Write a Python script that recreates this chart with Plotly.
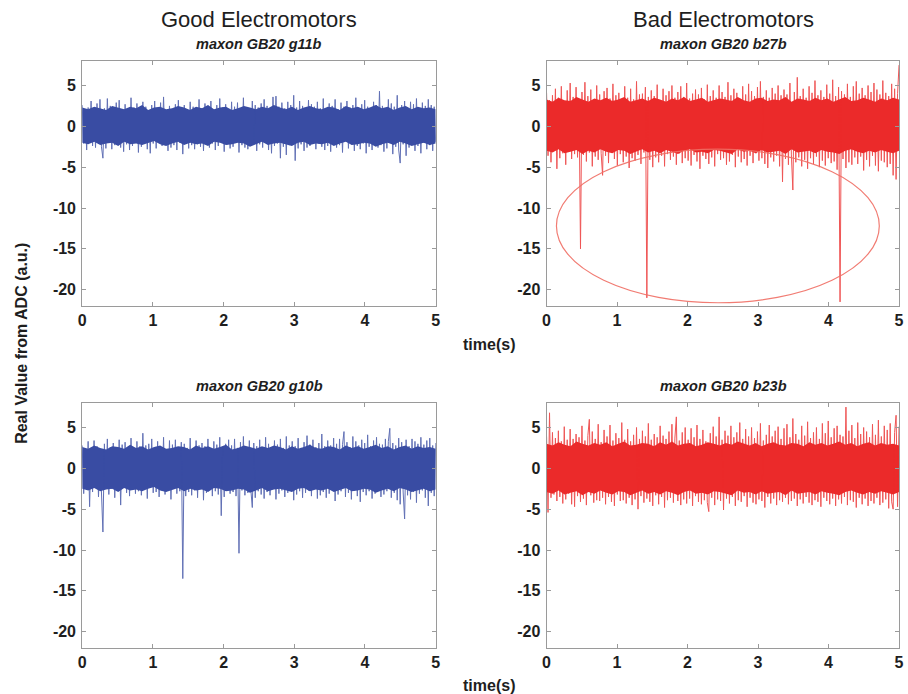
import plotly.graph_objects as go

# ---------------- data ----------------
# raw samples (fringe / spikes)
good_g11b = [
 2.6,-2.1,1.8,-2.9,2.3,-1.7,3.1,-2.4,1.9,-2.6,2.8,-2.0,3.3,-2.5,-3.9,2.2,-2.7,3.4,-1.9,2.5,
 -2.8,2.1,-2.3,2.9,-1.8,3.2,-2.6,2.0,-3.1,2.7,-2.2,1.9,-2.9,3.5,-2.4,2.3,-1.9,2.8,-3.2,2.1,
 -2.5,3.0,-2.0,2.4,-2.8,1.9,-3.3,2.6,-2.1,3.1,-2.7,2.2,-1.8,2.9,-2.4,3.6,-2.2,2.0,-3.0,2.5,
 -2.6,1.8,-2.3,2.7,-2.9,3.2,-2.0,2.3,-3.4,2.6,-1.9,2.1,-2.7,3.0,-2.3,2.4,-2.8,1.9,-2.2,3.3,
 -2.5,2.2,-3.0,2.8,-1.8,2.5,-2.6,3.1,-2.1,2.0,-2.9,2.6,-2.4,3.4,-2.0,2.3,-3.1,2.7,-2.2,1.9,
 -2.7,3.0,-2.5,2.4,-1.9,2.9,-3.2,2.1,-2.3,3.5,-2.6,2.2,-2.8,1.8,-2.4,3.1,-2.0,2.6,-3.0,2.3,
 -2.2,2.8,-2.6,3.3,-1.9,2.5,-2.9,2.0,-3.3,3.6,-2.4,3.7,-2.1,2.4,-3.9,2.9,-2.5,2.2,-3.5,3.0,
 -2.3,2.6,-2.0,3.8,-4.2,2.3,-2.7,3.1,-2.2,2.5,-3.0,2.0,-2.6,3.2,-2.4,2.7,-1.9,2.4,-2.8,3.0,
 -2.1,2.2,-2.5,3.4,-2.9,1.9,-2.4,2.8,-3.1,2.5,-2.0,3.3,-2.6,2.1,-2.3,2.9,-3.2,2.4,-1.8,3.1,
 -2.7,2.3,-2.2,2.6,-3.0,3.5,-2.4,2.0,-2.8,2.7,-2.1,3.2,-3.3,2.4,-2.5,1.9,-2.9,3.0,-2.2,2.6,
 -2.6,4.3,-2.3,2.5,-3.1,2.2,-2.7,3.3,-2.0,2.8,-3.4,2.4,-2.5,3.8,-2.9,-4.5,2.6,-2.2,3.1,-3.6,
 2.3,-2.6,3.0,-2.1,2.7,-3.0,3.4,-2.4,2.2,-3.3,2.9,-2.0,2.5,-2.8,3.3,-2.3,2.6,-3.0,2.4,-1.9,
]

bad_b27b = [
 4.1,-3.6,3.2,-4.4,3.8,-2.9,4.6,-5.2,3.5,-3.9,4.9,-3.3,3.0,-4.7,4.4,-3.1,5.3,-4.0,3.6,-3.4,
 4.8,-3.8,3.3,-15.0,4.2,-3.5,5.4,-4.3,3.7,-3.2,4.5,-4.9,3.1,-3.7,5.0,-4.1,3.9,-3.3,-6.0,4.3,
 -3.6,4.7,-4.5,3.4,-3.1,5.2,-4.0,3.8,-4.8,4.1,-3.4,3.2,-4.4,4.9,-3.7,3.5,-5.1,4.6,-3.9,3.3,
 -4.2,5.5,-3.5,3.9,-4.6,4.0,-3.2,4.8,-21.0,3.6,-4.1,4.4,-5.0,3.7,-3.8,5.1,-4.4,3.2,-3.6,4.6,
 -4.9,3.8,-3.4,4.3,-4.1,5.0,-3.7,3.5,-4.7,4.2,-3.3,4.9,-4.5,3.6,-3.9,5.3,-4.2,3.4,-4.8,4.0,
 -3.5,4.5,-4.3,3.9,-5.2,4.7,-3.6,3.3,-4.0,5.1,-4.6,3.7,-3.8,4.4,-4.9,3.5,-3.4,5.0,-4.1,4.2,
 -3.9,3.6,-4.7,5.4,-4.3,3.8,-3.5,4.6,-5.0,4.1,-3.7,3.4,-4.4,4.9,-4.0,3.9,-4.8,5.2,-3.6,4.3,
 -4.5,3.7,-3.3,4.8,-4.2,5.5,-3.9,3.6,-4.6,4.4,-5.1,3.5,-3.8,4.7,-4.3,4.0,-3.6,5.0,-4.9,3.8,
 -6.8,4.5,-4.0,3.9,-4.7,5.3,-3.5,-7.8,4.2,-4.4,6.0,-3.8,3.7,-4.9,4.6,-4.1,3.5,-5.2,4.9,-3.9,
 4.1,-4.6,5.6,-3.7,3.8,-5.0,4.4,-4.2,3.6,-4.8,5.1,-3.9,4.0,-4.5,5.7,-4.3,3.7,-5.3,4.8,-21.5,
 4.3,-4.0,3.9,-5.1,5.2,-4.4,3.6,-4.7,4.9,-3.8,5.5,-4.6,4.0,-3.7,4.7,-5.4,3.8,-4.1,5.0,-4.9,
 4.2,-3.6,5.3,-4.8,4.5,-5.5,3.9,-4.2,5.6,-4.4,4.1,-5.0,3.7,-4.6,5.2,-6.0,4.6,-6.5,4.0,7.5,
]

good_g10b = [
 2.8,-3.1,2.2,-2.6,3.3,-4.7,2.5,-2.9,3.4,-2.3,2.7,-3.5,2.0,-2.8,-7.8,3.0,-2.4,3.6,-3.2,2.6,
 -2.5,3.1,-3.6,2.3,-2.7,3.5,-4.5,2.9,-2.2,3.2,-3.0,2.4,-3.4,3.7,-2.6,2.1,-3.1,3.3,-2.8,2.7,
 -3.3,4.3,-2.5,2.8,-3.7,3.0,-2.3,3.6,-3.0,2.4,-2.9,3.3,-3.5,2.6,-2.7,3.8,-3.2,2.2,-2.6,3.4,
 -3.8,2.9,-2.4,3.5,-3.1,2.6,-2.8,3.2,-13.5,3.0,-3.4,2.5,-2.9,3.7,-3.3,2.3,-2.7,3.4,-3.6,2.8,
 -2.5,3.1,-3.9,2.7,-3.0,3.6,-2.6,2.4,-3.4,3.3,-2.8,2.9,-3.2,3.8,-5.8,2.6,-3.5,3.0,-2.4,3.5,
 -3.1,2.8,-2.9,3.6,-3.4,2.5,-10.4,3.2,-2.7,3.9,-3.3,2.6,-3.0,3.4,-2.6,-4.8,3.1,-3.6,2.7,-2.8,
 3.5,-3.2,2.4,-3.7,3.8,-2.9,3.0,-3.3,2.6,-2.5,3.4,-3.8,2.9,-3.1,3.6,-2.7,2.5,-3.5,3.9,-3.0,
 2.8,-2.6,3.3,-3.9,2.7,-3.2,3.7,-2.8,2.5,-3.6,3.2,-3.0,4.0,-2.7,2.9,-3.4,3.5,-2.5,2.6,-3.7,
 3.1,-3.3,4.2,-2.9,2.7,-3.6,3.4,-3.1,2.8,-2.6,3.7,-4.0,3.0,-3.2,3.6,-2.8,2.9,4.5,-3.5,3.2,
 -3.0,2.6,-3.8,3.9,-2.7,3.3,-3.4,2.8,-4.1,3.5,-2.9,3.1,-3.3,4.1,-2.8,2.7,-3.7,3.4,-3.1,3.8,
 -2.6,3.0,-3.5,2.9,-3.2,3.6,-2.8,3.3,4.9,-3.6,3.1,-3.0,2.8,-3.9,3.7,-4.4,3.2,-2.9,-6.2,3.5,
 -3.3,2.7,-3.8,3.6,-2.9,3.3,-4.2,3.0,-3.1,3.8,-2.7,2.9,-3.6,3.4,-4.6,3.7,-3.0,2.8,-3.4,3.1,
]

bad_b23b = [
 3.9,-5.4,6.8,-3.6,4.4,-3.2,3.7,-4.0,4.6,-3.5,3.3,-4.3,5.1,-3.8,3.5,-3.1,4.8,-4.4,3.6,-4.7,
 4.2,-3.4,3.8,-4.1,5.2,-3.7,3.4,-4.5,4.0,6.0,-3.3,4.5,-4.2,3.6,-3.9,5.4,-4.0,3.2,-3.6,4.7,
 -4.4,3.9,-3.5,5.3,-4.1,3.4,-4.6,4.3,-3.2,3.7,-4.0,5.6,-3.9,3.5,-4.3,4.8,-3.6,3.3,-4.5,4.1,
 -3.8,5.0,-5.0,3.6,-3.4,4.6,-4.2,3.9,-3.7,5.5,-4.1,3.5,-4.6,4.2,-3.3,3.8,-4.4,5.2,-3.5,4.0,
 -4.8,3.6,-3.9,4.5,-3.6,5.4,-4.2,3.7,6.3,-4.0,3.4,-4.5,4.4,-3.8,5.0,-4.3,3.5,-3.7,4.9,-4.6,
 3.8,-3.4,5.3,-4.1,3.6,-4.4,4.7,-3.9,3.3,-4.2,-5.3,4.3,-3.6,5.1,-4.5,3.9,-3.8,6.3,-4.0,3.5,
 -5.1,4.6,-3.7,4.0,-4.3,5.2,-3.5,3.8,-4.6,4.4,-3.9,5.6,-4.1,3.6,-3.4,4.8,-4.7,3.9,-3.6,5.0,
 -4.2,3.7,-4.4,4.5,-3.8,5.5,-4.0,3.4,-4.8,4.1,-3.5,5.3,-4.3,3.9,-3.7,4.6,-4.5,5.1,-3.9,3.6,
 -4.1,4.9,-3.6,5.4,-4.4,3.8,-4.0,6.1,-3.7,4.2,-4.6,3.5,-3.8,5.2,-4.3,4.0,-3.5,5.7,-4.2,3.7,
 -4.5,4.4,-3.9,5.0,-4.1,3.6,-4.7,5.5,-3.6,4.3,-4.0,5.8,-4.4,3.8,-3.7,4.9,-4.6,5.2,-3.8,4.1,
 -4.3,3.9,-3.5,7.5,-4.5,4.6,-3.9,5.3,-4.1,3.7,-4.8,5.6,-3.6,4.2,-4.4,5.0,-3.7,4.5,-4.6,3.8,
 -4.0,5.4,-4.3,4.1,-3.6,5.9,-4.5,3.9,-4.2,5.2,-3.8,4.7,-4.9,5.5,-4.1,-5.0,4.4,6.5,-4.7,5.1,
]

# dense core of each trace (upper / lower edge of the solid band)
core_g11b_hi = [2.3,2.1,2.4,2.2,2.0,2.5,2.3,2.1,2.4,2.2,2.6,2.0,2.3,2.4,2.1,2.2,2.5,2.3,2.0,2.4,
                2.2,2.6,2.1,2.3,2.4,2.0,2.2,2.5,2.3,2.1,2.4,2.2,2.6,2.3,2.1,2.4,2.0,2.3,2.5,2.2,
                2.1,2.4,2.3,2.0,2.5,2.2,2.4,2.1,2.3,2.6,2.2,2.4,2.0,2.3,2.5,2.1,2.4,2.2,2.3,2.1]
core_g11b_lo = [-2.0,-2.2,-1.9,-2.3,-2.1,-2.0,-2.4,-1.9,-2.2,-2.1,-2.3,-2.0,-1.8,-2.2,-2.4,-2.1,-1.9,-2.3,-2.0,-2.2,
                -2.1,-2.4,-1.9,-2.0,-2.3,-2.2,-2.0,-2.1,-2.5,-2.2,-1.9,-2.3,-2.1,-2.0,-2.2,-2.4,-2.0,-1.9,-2.3,-2.1,
                -2.2,-2.0,-2.4,-2.1,-1.9,-2.3,-2.2,-2.0,-2.1,-2.5,-2.2,-2.0,-2.3,-1.9,-2.1,-2.4,-2.2,-2.0,-2.3,-2.1]
core_b27b_hi = [3.3,3.0,3.5,3.2,3.1,3.6,3.3,3.0,3.4,3.2,3.5,3.1,3.3,3.6,3.0,3.2,3.4,3.1,3.5,3.3,
                3.0,3.4,3.2,3.6,3.1,3.3,3.5,3.0,3.2,3.4,3.3,3.1,3.6,3.2,3.0,3.4,3.5,3.1,3.3,3.2,
                3.6,3.0,3.4,3.3,3.1,3.5,3.2,3.4,3.0,3.3,3.6,3.1,3.2,3.5,3.3,3.0,3.4,3.2,3.5,3.3]
core_b27b_lo = [-3.0,-3.2,-2.8,-3.3,-3.1,-2.9,-3.4,-3.0,-3.2,-2.8,-3.1,-3.3,-2.9,-3.0,-3.4,-3.1,-2.8,-3.2,-3.0,-3.3,
                -2.9,-3.1,-3.4,-3.0,-2.8,-3.2,-3.1,-3.3,-2.9,-3.0,-3.2,-3.4,-2.8,-3.1,-3.0,-3.3,-2.9,-3.2,-3.1,-3.0,
                -3.4,-2.8,-3.2,-3.1,-3.0,-3.3,-2.9,-3.1,-3.2,-3.4,-3.0,-2.8,-3.1,-3.3,-3.0,-3.2,-2.9,-3.1,-3.3,-3.0]
core_g10b_hi = [2.6,2.4,2.8,2.5,2.3,2.7,2.6,2.4,2.9,2.5,2.7,2.3,2.6,2.8,2.4,2.5,2.7,2.6,2.3,2.8,
                2.5,2.7,2.4,2.6,2.9,2.3,2.5,2.8,2.6,2.4,2.7,2.5,2.8,2.6,2.3,2.7,2.4,2.6,2.9,2.5,
                2.4,2.7,2.6,2.3,2.8,2.5,2.7,2.4,2.6,2.9,2.5,2.7,2.3,2.6,2.8,2.4,2.7,2.5,2.6,2.4]
core_g10b_lo = [-2.5,-2.7,-2.4,-2.8,-2.6,-2.5,-2.9,-2.4,-2.7,-2.6,-2.8,-2.5,-2.3,-2.7,-2.9,-2.6,-2.4,-2.8,-2.5,-2.7,
                -2.6,-2.9,-2.4,-2.5,-2.8,-2.7,-2.5,-2.6,-3.0,-2.7,-2.4,-2.8,-2.6,-2.5,-2.7,-2.9,-2.5,-2.4,-2.8,-2.6,
                -2.7,-2.5,-2.9,-2.6,-2.4,-2.8,-2.7,-2.5,-2.6,-3.0,-2.7,-2.5,-2.8,-2.4,-2.6,-2.9,-2.7,-2.5,-2.8,-2.6]
core_b23b_hi = [3.0,2.8,3.2,2.9,2.7,3.3,3.0,2.8,3.1,2.9,3.2,2.7,3.0,3.3,2.8,2.9,3.1,3.0,2.7,3.2,
                2.9,3.3,2.8,3.0,3.1,2.7,2.9,3.2,3.0,2.8,3.1,2.9,3.3,3.0,2.8,3.1,2.7,3.0,3.2,2.9,
                2.8,3.1,3.0,2.7,3.2,2.9,3.1,2.8,3.0,3.3,2.9,3.1,2.7,3.0,3.2,2.8,3.1,2.9,3.0,2.8]
core_b23b_lo = [-2.9,-3.1,-2.7,-3.2,-3.0,-2.8,-3.3,-2.9,-3.1,-2.7,-3.0,-3.2,-2.8,-2.9,-3.3,-3.0,-2.7,-3.1,-2.9,-3.2,
                -2.8,-3.0,-3.3,-2.9,-2.7,-3.1,-3.0,-3.2,-2.8,-2.9,-3.1,-3.3,-2.7,-3.0,-2.9,-3.2,-2.8,-3.1,-3.0,-2.9,
                -3.3,-2.7,-3.1,-3.0,-2.9,-3.2,-2.8,-3.0,-3.1,-3.3,-2.9,-2.7,-3.0,-3.2,-2.9,-3.1,-2.8,-3.0,-3.2,-2.9]

duration_s = 5.0
panel_subtitles = ["maxon GB20 g11b", "maxon GB20 b27b", "maxon GB20 g10b", "maxon GB20 b23b"]
column_titles = ["Good Electromotors", "Bad Electromotors"]
x_label = "time(s)"
y_label = "Real Value from ADC (a.u.)"
x_tickvals = [0, 1, 2, 3, 4, 5]
x_ticktext = ["0", "1", "2", "3", "4", "5"]
y_tickvals = [-20, -15, -10, -5, 0, 5]
y_ticktext = ["-20", "-15", "-10", "-5", "0", "5"]
# highlighted region (ellipse) in the b27b panel: t from, t to, value from, value to
ellipse_box = [0.14, 4.72, -21.6, -2.8]

BLUE = "#3a4da3"
RED = "#ec2b2b"

W, H = 908, 694

def times(vals):
    n = len(vals)
    return [i * duration_s / (n - 1) for i in range(n)]

series = [good_g11b, bad_b27b, good_g10b, bad_b23b]
cores = [(core_g11b_lo, core_g11b_hi), (core_b27b_lo, core_b27b_hi),
         (core_g10b_lo, core_g10b_hi), (core_b23b_lo, core_b23b_hi)]
colors = [BLUE, RED, BLUE, RED]

# panel pixel boxes (left, right, top, bottom)
boxes = [(79, 436, 61, 306), (548, 904, 61, 306), (79, 436, 403, 648), (548, 904, 403, 648)]

fig = go.Figure()
for k, (vals, (lo, hi), col) in enumerate(zip(series, cores, colors)):
    sfx = "" if k == 0 else str(k + 1)
    ax = dict(xaxis="x" + sfx, yaxis="y" + sfx, showlegend=False, hoverinfo="skip")
    fig.add_trace(go.Scatter(x=times(lo), y=lo, mode="lines", line=dict(width=0, color=col), **ax))
    fig.add_trace(go.Scatter(x=times(hi), y=hi, mode="lines", line=dict(width=0, color=col),
                             fill="tonexty", fillcolor=col, **ax))
    fig.add_trace(go.Scatter(x=times(vals), y=vals, mode="lines",
                             line=dict(color=col, width=1), opacity=0.8, **ax))

axis_common = dict(showline=True, mirror="ticks", linecolor="#9a9a9a", linewidth=1,
                   ticks="inside", ticklen=4, tickcolor="#9a9a9a", showgrid=False,
                   zeroline=False,
                   tickfont=dict(family="Liberation Sans", size=16, color="#1e1e1e", weight="bold"))

layout = dict(width=W, height=H, margin=dict(l=0, r=0, t=0, b=0),
              paper_bgcolor="white", plot_bgcolor="white",
              font=dict(family="Liberation Sans"))
for k, (l, r, t, b) in enumerate(boxes):
    sfx = "" if k == 0 else str(k + 1)
    layout["xaxis" + sfx] = dict(axis_common, domain=[l / W, r / W], range=[0, 5],
                                 tickvals=x_tickvals, ticktext=x_ticktext,
                                 anchor="y" + sfx)
    layout["yaxis" + sfx] = dict(axis_common, domain=[1 - b / H, 1 - t / H], range=[-22, 8],
                                 tickvals=y_tickvals, ticktext=y_ticktext,
                                 anchor="x" + sfx, ticklabelstandoff=2)
fig.update_layout(**layout)

ann = []
def px(x, y, text, size, **kw):
    ann.append(dict(x=x / W, y=1 - y / H, xref="paper", yref="paper", text=text,
                    xanchor="center", yanchor="middle", showarrow=False,
                    font=dict(size=size, color="#1e1e1e", family="Liberation Sans"), **kw))

px(258, 20, column_titles[0], 22)
px(727, 20, column_titles[1], 22)
px(258, 44, "<b><i>" + panel_subtitles[0] + "</i></b>", 14.5)
px(727, 44, "<b><i>" + panel_subtitles[1] + "</i></b>", 14.5)
px(258, 386, "<b><i>" + panel_subtitles[2] + "</i></b>", 14.5)
px(727, 386, "<b><i>" + panel_subtitles[3] + "</i></b>", 14.5)
px(490, 344, "<b>" + x_label + "</b>", 16)
px(490, 685, "<b>" + x_label + "</b>", 16)
px(17, 343, "<b>" + y_label + "</b>", 16, textangle=-90)
fig.update_layout(annotations=ann)

fig.add_shape(type="circle", xref="x2", yref="y2",
              x0=ellipse_box[0], x1=ellipse_box[1], y0=ellipse_box[2], y1=ellipse_box[3],
              line=dict(color="rgba(240,110,100,0.9)", width=1.2))

fig.write_html("out.html")
